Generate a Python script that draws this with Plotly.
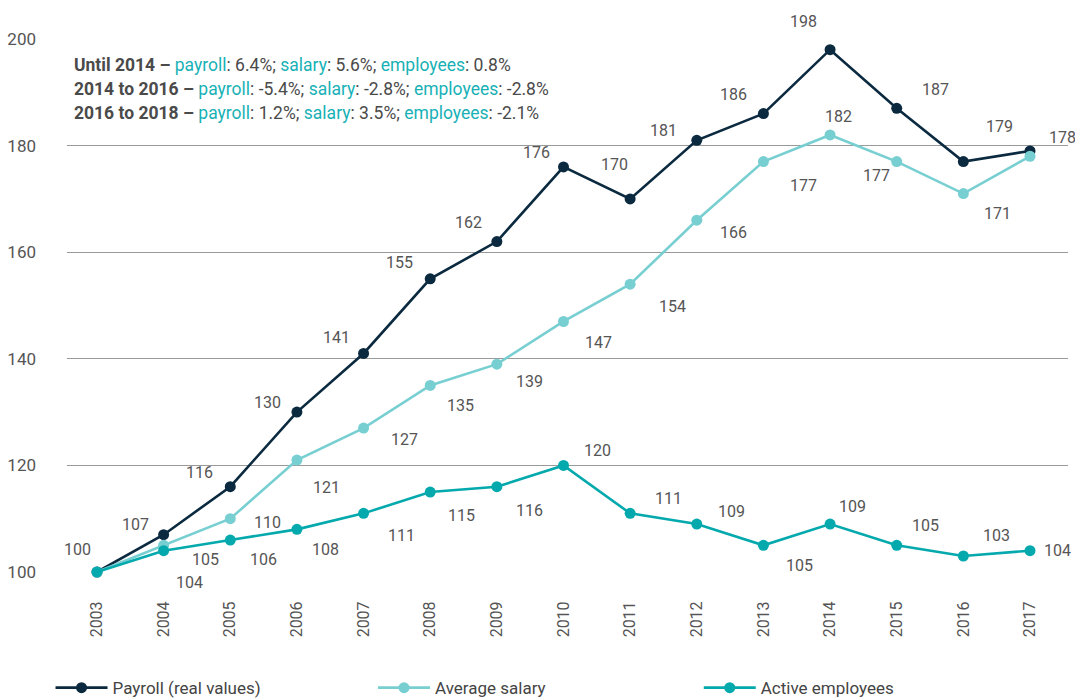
import plotly.graph_objects as go

# Index values (2003 = 100)
years = [2003, 2004, 2005, 2006, 2007, 2008, 2009, 2010, 2011, 2012, 2013, 2014, 2015, 2016, 2017]
payroll = [100, 107, 116, 130, 141, 155, 162, 176, 170, 181, 186, 198, 187, 177, 179]
salary = [100, 105, 110, 121, 127, 135, 139, 147, 154, 166, 177, 182, 177, 171, 178]
employees = [100, 104, 106, 108, 111, 115, 116, 120, 111, 109, 105, 109, 105, 103, 104]

# which points carry a value label (payroll 2016 has none)
payroll_labelled = [True] * 13 + [False, True]

# label offsets in pixels (dx right, dy down) relative to each point
payroll_off = [(-19, -23), (-28, -10), (-31, -14), (-29, -10), (-27, -16), (-31, -16), (-28, -19),
               (-27, -14), (-16, -34), (-33, -10), (-30, -19), (-27, -28), (39, -19), (0, 0), (-31, -24)]
salary_off = [(0, 0), (42, 14), (37, 4), (30, 27), (41, 11), (30, 20), (33, 17), (35, 21),
              (42, 22), (37, 12), (40, 24), (8, -18), (-20, 14), (34, 20), (32, -19)]
employees_off = [(0, 0), (26, 32), (33, 19), (29, 20), (38, 22), (31, 23), (33, 24), (34, -15),
                 (38, -15), (35, -13), (36, 20), (22, -18), (29, -20), (33, -21), (27, 0)]

C_PAY = "#0b2a3f"
C_SAL = "#78cfd2"
C_EMP = "#04a9ad"
C_TXT = "#555555"
FONT = "Roboto"

series = [("Payroll (real values)", payroll, C_PAY, "legend", 0.047),
          ("Average salary", salary, C_SAL, "legend2", 0.347),
          ("Active employees", employees, C_EMP, "legend3", 0.650)]

fig = go.Figure()
legends = {}
for name, vals, col, leg, lx in series:
    fig.add_trace(go.Scatter(
        x=years, y=vals, name=name, mode="lines+markers",
        line=dict(color=col, width=2.6),
        marker=dict(color=col, size=11),
        cliponaxis=False, legend=leg,
    ))
    legends[leg] = dict(
        orientation="h", xref="container", yref="container",
        x=lx, xanchor="left", y=0.017, yanchor="middle",
        font=dict(family=FONT, size=17, color="#444444"),
        itemwidth=52, bgcolor="rgba(0,0,0,0)",
    )

annotations = []


def add_labels(vals, offs, mask=None):
    for i, (yr, v) in enumerate(zip(years, vals)):
        if mask is not None and not mask[i]:
            continue
        dx, dy = offs[i]
        annotations.append(dict(
            x=yr, y=v, text=str(v), showarrow=False,
            xshift=dx, yshift=-dy,
            font=dict(family=FONT, size=16, color=C_TXT),
        ))


add_labels(payroll, payroll_off, payroll_labelled)
add_labels(salary, salary_off, [i > 0 for i in range(len(years))])
add_labels(employees, employees_off, [i > 0 for i in range(len(years))])

teal = "#17b1b6"

# growth summary, one annotation per line
periods = ["Until 2014", "2014 to 2016", "2016 to 2018"]
pay_growth = ["6.4%", "-5.4%", "1.2%"]
sal_growth = ["5.6%", "-2.8%", "3.5%"]
emp_growth = ["0.8%", "-2.8%", "-2.1%"]
summary_y = [0.951, 0.906, 0.861]

for period, pg, sg, eg, yy in zip(periods, pay_growth, sal_growth, emp_growth, summary_y):
    txt = (f"<b>{period} –</b> <span style='color:{teal}'>payroll</span>: {pg}; "
           f"<span style='color:{teal}'>salary</span>: {sg}; "
           f"<span style='color:{teal}'>employees</span>: {eg}")
    annotations.append(dict(
        xref="paper", yref="paper", x=0.005, y=yy, xanchor="left", yanchor="middle",
        text=txt, showarrow=False, align="left",
        font=dict(family=FONT, size=17.5, color="#4a4a4a"),
    ))

fig.update_layout(
    width=1075, height=700,
    margin=dict(l=67, r=7, t=39, b=128, autoexpand=False),
    paper_bgcolor="white", plot_bgcolor="white",
    font=dict(family=FONT, color=C_TXT),
    annotations=annotations,
    showlegend=True,
    xaxis=dict(
        range=[2002.55, 2017.57],
        tickmode="array", tickvals=years, ticktext=[str(y) for y in years],
        tickangle=-90, showgrid=False, zeroline=False, showline=False,
        ticks="outside", ticklen=22, tickcolor="rgba(0,0,0,0)",
        tickfont=dict(family=FONT, size=16, color=C_TXT),
    ),
    yaxis=dict(
        range=[100, 200], tickmode="array", tickvals=[100, 120, 140, 160, 180, 200],
        showgrid=True, gridcolor="#9a9a9a", gridwidth=1.2,
        zeroline=False, showline=False, ticks="",
        ticklabelstandoff=30,
        tickfont=dict(family=FONT, size=17, color=C_TXT),
    ),
    **legends,
)

fig.write_html("out.html")
